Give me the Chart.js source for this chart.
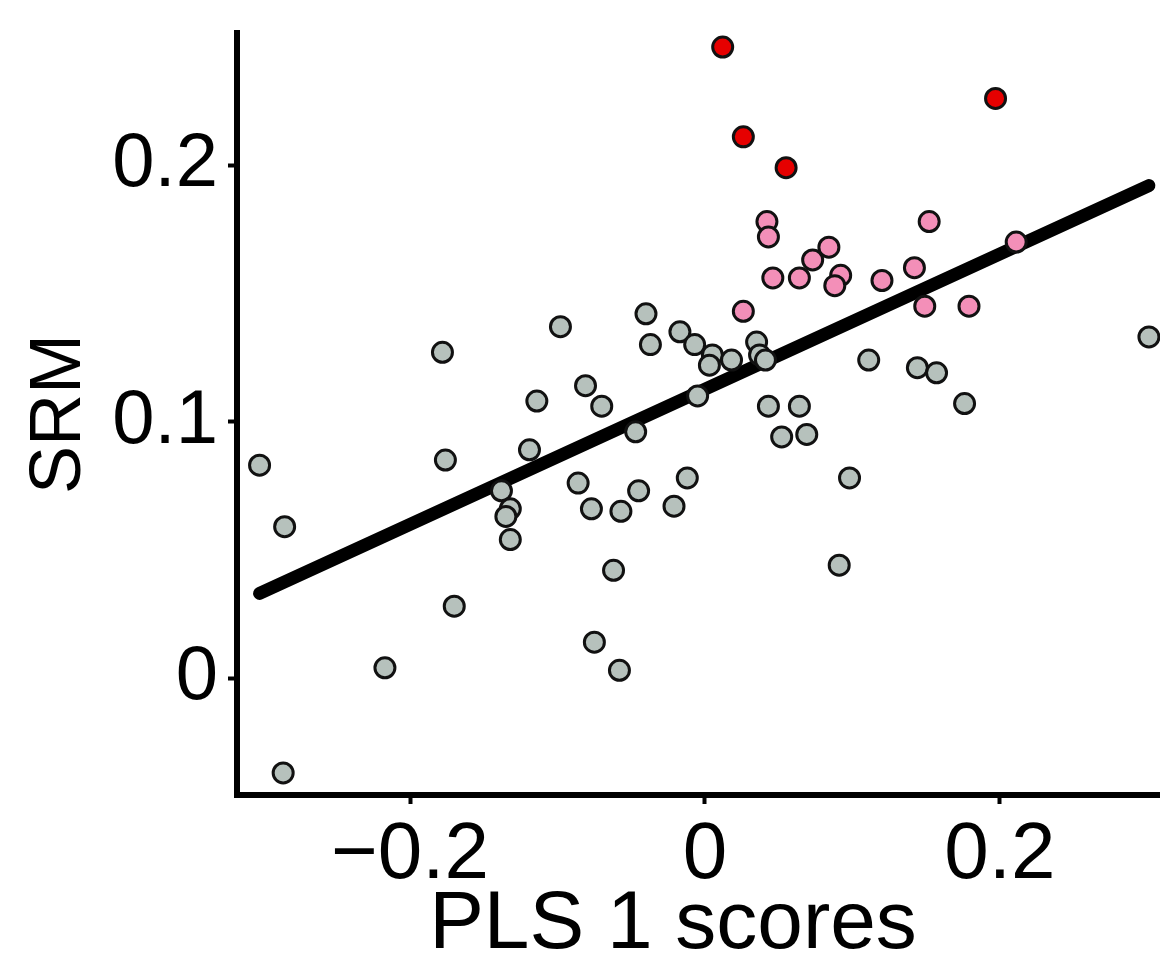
<!DOCTYPE html>
<html>
<head>
<meta charset="utf-8">
<script src="https://cdn.jsdelivr.net/npm/chart.js@4"></script>
<style>
  html, body { margin: 0; padding: 0; background: #fff; }
  #wrap { width: 1160px; height: 955px; }
</style>
</head>
<body>
<div id="wrap"><canvas id="chart" width="1160" height="955"></canvas></div>
<script>
// grey points (not flagged)
var grayX = [-0.302, -0.285, -0.286, -0.217, -0.176, -0.178, -0.170, -0.138, -0.132, -0.135,
             -0.132, -0.119, -0.114, -0.098, -0.081, -0.070, -0.086, -0.077, -0.057, -0.045,
             -0.047, -0.062, -0.075, -0.058, -0.021, -0.012, -0.040, -0.037, -0.017, -0.007,
             -0.005, 0.005, 0.003, 0.018, 0.035, 0.037, 0.041, 0.043, 0.064, 0.052,
             0.069, 0.098, 0.091, 0.111, 0.144, 0.157, 0.176, 0.301];
var grayY = [0.083, 0.059, -0.037, 0.004, 0.085, 0.127, 0.028, 0.073, 0.066, 0.063,
             0.054, 0.089, 0.108, 0.137, 0.114, 0.106, 0.076, 0.066, 0.065, 0.073,
             0.096, 0.042, 0.014, 0.003, 0.067, 0.078, 0.142, 0.130, 0.135, 0.130,
             0.110, 0.126, 0.122, 0.124, 0.131, 0.126, 0.124, 0.106, 0.106, 0.094,
             0.095, 0.078, 0.044, 0.124, 0.121, 0.119, 0.107, 0.133];

// pink points
var pinkX = [0.042, 0.043, 0.084, 0.073, 0.046, 0.064, 0.092, 0.088, 0.026, 0.152,
             0.211, 0.142, 0.120, 0.149, 0.179];
var pinkY = [0.178, 0.172, 0.168, 0.163, 0.156, 0.156, 0.157, 0.153, 0.143, 0.178,
             0.170, 0.160, 0.155, 0.145, 0.145];

// red points
var redX = [0.012, 0.026, 0.055, 0.197];
var redY = [0.246, 0.211, 0.199, 0.226];

// fitted line end points
var fitX = [-0.302, 0.301];
var fitY = [0.033, 0.192];

var xTicks = [-0.2, 0, 0.2];
var yTicks = [0, 0.1, 0.2];
var xRange = [-0.3173, 0.3085];
var yRange = [-0.0456, 0.2515];
var xTitle = 'PLS 1 scores';

var FONT = '"Liberation Sans", Arial, Helvetica, sans-serif';

function pts(xs, ys) {
    return xs.map(function(x, i) { return { x: x, y: ys[i] }; });
}

function fmt(v) {
    if (Math.abs(v) < 1e-9) return '0';
    return (v < 0 ? '\u2212' : '') + Math.abs(v).toFixed(1);
}

function pointSet(label, xs, ys, fill) {
    return {
        type: 'scatter',
        label: label,
        data: pts(xs, ys),
        backgroundColor: fill,
        borderColor: '#111',
        borderWidth: 3,
        pointRadius: 10,
        order: 1,
        clip: false
    };
}

// x title sits a bit left of the panel centre in the original
var xTitlePlugin = {
    id: 'xTitle',
    afterDraw: function(chart) {
        var ctx = chart.ctx;
        ctx.save();
        ctx.font = '82px ' + FONT;
        ctx.fillStyle = '#000';
        ctx.textAlign = 'center';
        ctx.textBaseline = 'alphabetic';
        ctx.fillText(xTitle, 673, 948);
        ctx.restore();
    }
};

new Chart(document.getElementById('chart'), {
    type: 'scatter',
    data: {
        datasets: [
            {
                type: 'line',
                label: 'fit',
                data: pts(fitX, fitY),
                borderColor: '#000',
                borderWidth: 13,
                borderCapStyle: 'round',
                pointRadius: 0,
                fill: false,
                order: 10
            },
            pointSet('grey', grayX, grayY, '#b6c1bc'),
            pointSet('pink', pinkX, pinkY, '#f38fb8'),
            pointSet('red', redX, redY, '#e60000')
        ]
    },
    plugins: [xTitlePlugin],
    options: {
        responsive: false,
        animation: false,
        devicePixelRatio: 1,
        layout: { autoPadding: false, padding: { left: 0, top: 33, right: 0, bottom: 0 } },
        plugins: { legend: { display: false }, tooltip: { enabled: false } },
        scales: {
            x: {
                type: 'linear',
                min: xRange[0], max: xRange[1],
                afterBuildTicks: function(s) { s.ticks = xTicks.map(function(v) { return { value: v }; }); },
                afterFit: function(s) { s.height = 160; s.paddingLeft = 0; s.paddingRight = 0; },
                grid: { display: true, drawOnChartArea: false, drawTicks: true, tickLength: 9, tickWidth: 4, tickColor: '#000' },
                border: { display: true, width: 6, color: '#000' },
                ticks: {
                    color: '#000', padding: 4, maxRotation: 0,
                    font: { family: FONT, size: 80 },
                    callback: function(v) { return fmt(v); }
                }
            },
            y: {
                type: 'linear',
                min: yRange[0], max: yRange[1],
                afterBuildTicks: function(s) { s.ticks = yTicks.map(function(v) { return { value: v }; }); },
                afterFit: function(s) { s.width = 237; s.paddingTop = 0; s.paddingBottom = 0; },
                grid: { display: true, drawOnChartArea: false, drawTicks: true, tickLength: 9, tickWidth: 4, tickColor: '#000' },
                border: { display: true, width: 6, color: '#000' },
                ticks: {
                    color: '#000', padding: 10,
                    font: { family: FONT, size: 76 },
                    callback: function(v) { return fmt(v); }
                },
                title: {
                    display: true, text: 'SRM', color: '#000',
                    font: { family: FONT, size: 72, lineHeight: 1 },
                    padding: { top: 24, bottom: 0 }
                }
            }
        }
    }
});
</script>
</body>
</html>
